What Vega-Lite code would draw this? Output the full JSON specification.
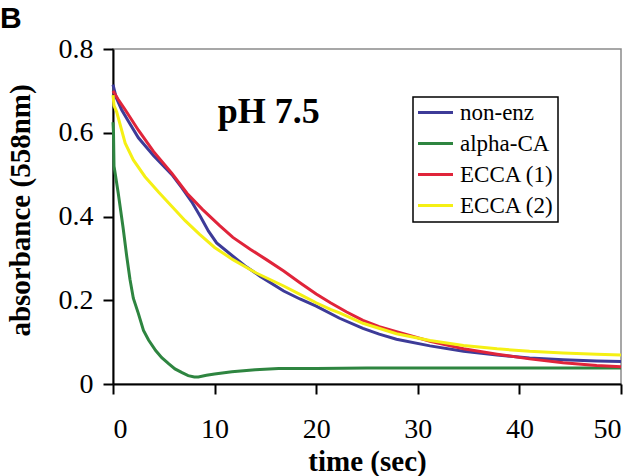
{
  "$schema": "https://vega.github.io/schema/vega-lite/v6.json",
  "width": 508,
  "height": 335,
  "autosize": {"type": "none"},
  "padding": {"left": 113, "top": 49, "right": 19, "bottom": 92},
  "background": "white",
  "config": {
    "view": {"stroke": "#8a8a8a", "strokeWidth": 1.5},
    "font": "Liberation Serif",
    "axis": {
      "domainColor": "black", "domainWidth": 2,
      "tickColor": "black", "tickWidth": 2, "tickSize": 10,
      "labelFont": "Liberation Serif", "labelFontSize": 28, "labelColor": "black",
      "titleFont": "Liberation Serif", "titleFontSize": 29, "titleFontWeight": "bold", "titleColor": "black",
      "grid": false
    },
    "legend": {
      "orient": "none", "legendX": 300, "legendY": 48,
      "strokeColor": "black", "strokeWidth": 1.5, "fillColor": "white",
      "padding": 4, "symbolType": "M-3,0H3", "symbolStrokeWidth": 3, "symbolSize": 136, "symbolOffset": 7,
      "labelFont": "Liberation Serif", "labelFontSize": 23, "labelColor": "black",
      "labelOffset": 13, "rowPadding": 7
    }
  },
  "title": {
    "text": "B", "anchor": "start", "frame": "group", "font": "Liberation Sans", "fontWeight": "bold",
    "fontSize": 30, "color": "black", "dx": -113, "offset": -23, "baseline": "alphabetic"
  },
  "layer": [
    {
      "data": {"values": [
        {"series": "non-enz", "t": 0, "v": 0.715}, {"series": "non-enz", "t": 0.3, "v": 0.685}, {"series": "non-enz", "t": 0.85, "v": 0.655},
        {"series": "non-enz", "t": 1.5, "v": 0.628}, {"series": "non-enz", "t": 2.5, "v": 0.588}, {"series": "non-enz", "t": 4, "v": 0.545},
        {"series": "non-enz", "t": 5.8, "v": 0.5}, {"series": "non-enz", "t": 6.8, "v": 0.468}, {"series": "non-enz", "t": 7.75, "v": 0.435},
        {"series": "non-enz", "t": 8.6, "v": 0.4}, {"series": "non-enz", "t": 9.4, "v": 0.365}, {"series": "non-enz", "t": 10.2, "v": 0.337},
        {"series": "non-enz", "t": 11.8, "v": 0.305}, {"series": "non-enz", "t": 13, "v": 0.282}, {"series": "non-enz", "t": 14.5, "v": 0.257},
        {"series": "non-enz", "t": 16.8, "v": 0.222}, {"series": "non-enz", "t": 18.4, "v": 0.203}, {"series": "non-enz", "t": 20, "v": 0.186},
        {"series": "non-enz", "t": 22.3, "v": 0.157}, {"series": "non-enz", "t": 24.6, "v": 0.133}, {"series": "non-enz", "t": 26.2, "v": 0.119},
        {"series": "non-enz", "t": 27.9, "v": 0.107}, {"series": "non-enz", "t": 31.2, "v": 0.091}, {"series": "non-enz", "t": 34.5, "v": 0.078},
        {"series": "non-enz", "t": 37.8, "v": 0.069}, {"series": "non-enz", "t": 41, "v": 0.062}, {"series": "non-enz", "t": 44.3, "v": 0.058},
        {"series": "non-enz", "t": 47.6, "v": 0.055}, {"series": "non-enz", "t": 50, "v": 0.054},

        {"series": "alpha-CA", "t": 0, "v": 0.625}, {"series": "alpha-CA", "t": 0.05, "v": 0.6}, {"series": "alpha-CA", "t": 0.1, "v": 0.52},
        {"series": "alpha-CA", "t": 0.2, "v": 0.505}, {"series": "alpha-CA", "t": 0.52, "v": 0.455}, {"series": "alpha-CA", "t": 0.7, "v": 0.424},
        {"series": "alpha-CA", "t": 1.0, "v": 0.372}, {"series": "alpha-CA", "t": 1.35, "v": 0.305}, {"series": "alpha-CA", "t": 1.67, "v": 0.25},
        {"series": "alpha-CA", "t": 2.0, "v": 0.205}, {"series": "alpha-CA", "t": 2.5, "v": 0.168}, {"series": "alpha-CA", "t": 3.0, "v": 0.128},
        {"series": "alpha-CA", "t": 3.5, "v": 0.105}, {"series": "alpha-CA", "t": 4.2, "v": 0.08}, {"series": "alpha-CA", "t": 4.8, "v": 0.063},
        {"series": "alpha-CA", "t": 5.5, "v": 0.048}, {"series": "alpha-CA", "t": 6.1, "v": 0.036}, {"series": "alpha-CA", "t": 6.8, "v": 0.027},
        {"series": "alpha-CA", "t": 7.4, "v": 0.02}, {"series": "alpha-CA", "t": 8.0, "v": 0.017}, {"series": "alpha-CA", "t": 8.4, "v": 0.017},
        {"series": "alpha-CA", "t": 9.2, "v": 0.021}, {"series": "alpha-CA", "t": 10, "v": 0.024}, {"series": "alpha-CA", "t": 11.7, "v": 0.029},
        {"series": "alpha-CA", "t": 14, "v": 0.034}, {"series": "alpha-CA", "t": 16.3, "v": 0.037}, {"series": "alpha-CA", "t": 20, "v": 0.037},
        {"series": "alpha-CA", "t": 25, "v": 0.038}, {"series": "alpha-CA", "t": 30, "v": 0.038}, {"series": "alpha-CA", "t": 35, "v": 0.038},
        {"series": "alpha-CA", "t": 40, "v": 0.038}, {"series": "alpha-CA", "t": 45, "v": 0.038}, {"series": "alpha-CA", "t": 50, "v": 0.038},

        {"series": "ECCA (1)", "t": 0, "v": 0.7}, {"series": "ECCA (1)", "t": 0.5, "v": 0.68}, {"series": "ECCA (1)", "t": 1.2, "v": 0.655},
        {"series": "ECCA (1)", "t": 2.5, "v": 0.606}, {"series": "ECCA (1)", "t": 4, "v": 0.555}, {"series": "ECCA (1)", "t": 5.8, "v": 0.503},
        {"series": "ECCA (1)", "t": 7.3, "v": 0.455}, {"series": "ECCA (1)", "t": 8.8, "v": 0.417}, {"series": "ECCA (1)", "t": 10.5, "v": 0.378},
        {"series": "ECCA (1)", "t": 11.8, "v": 0.35}, {"series": "ECCA (1)", "t": 13.5, "v": 0.322}, {"series": "ECCA (1)", "t": 15.1, "v": 0.297},
        {"series": "ECCA (1)", "t": 16.8, "v": 0.27}, {"series": "ECCA (1)", "t": 18.4, "v": 0.242}, {"series": "ECCA (1)", "t": 20, "v": 0.215},
        {"series": "ECCA (1)", "t": 21.4, "v": 0.194}, {"series": "ECCA (1)", "t": 23, "v": 0.172}, {"series": "ECCA (1)", "t": 24.6, "v": 0.152},
        {"series": "ECCA (1)", "t": 26.2, "v": 0.137}, {"series": "ECCA (1)", "t": 27.9, "v": 0.125}, {"series": "ECCA (1)", "t": 31.2, "v": 0.102},
        {"series": "ECCA (1)", "t": 34.5, "v": 0.084}, {"series": "ECCA (1)", "t": 37.8, "v": 0.071}, {"series": "ECCA (1)", "t": 41, "v": 0.06},
        {"series": "ECCA (1)", "t": 44.3, "v": 0.051}, {"series": "ECCA (1)", "t": 47.6, "v": 0.044}, {"series": "ECCA (1)", "t": 50, "v": 0.041},

        {"series": "ECCA (2)", "t": 0, "v": 0.69}, {"series": "ECCA (2)", "t": 0.1, "v": 0.665}, {"series": "ECCA (2)", "t": 0.36, "v": 0.65},
        {"series": "ECCA (2)", "t": 1.2, "v": 0.575}, {"series": "ECCA (2)", "t": 2, "v": 0.535}, {"series": "ECCA (2)", "t": 3.15, "v": 0.495},
        {"series": "ECCA (2)", "t": 4.5, "v": 0.458}, {"series": "ECCA (2)", "t": 5.8, "v": 0.424}, {"series": "ECCA (2)", "t": 7.1, "v": 0.39},
        {"series": "ECCA (2)", "t": 8.5, "v": 0.358}, {"series": "ECCA (2)", "t": 10, "v": 0.326}, {"series": "ECCA (2)", "t": 11.8, "v": 0.297},
        {"series": "ECCA (2)", "t": 14.1, "v": 0.265}, {"series": "ECCA (2)", "t": 16.8, "v": 0.234}, {"series": "ECCA (2)", "t": 18.4, "v": 0.214},
        {"series": "ECCA (2)", "t": 20, "v": 0.194}, {"series": "ECCA (2)", "t": 21.4, "v": 0.178}, {"series": "ECCA (2)", "t": 22.3, "v": 0.17},
        {"series": "ECCA (2)", "t": 24.6, "v": 0.145}, {"series": "ECCA (2)", "t": 27.9, "v": 0.12}, {"series": "ECCA (2)", "t": 31.2, "v": 0.104},
        {"series": "ECCA (2)", "t": 34.5, "v": 0.092}, {"series": "ECCA (2)", "t": 37.8, "v": 0.084}, {"series": "ECCA (2)", "t": 41, "v": 0.078},
        {"series": "ECCA (2)", "t": 44.3, "v": 0.074}, {"series": "ECCA (2)", "t": 47.6, "v": 0.071}, {"series": "ECCA (2)", "t": 50, "v": 0.069}
      ]},
      "mark": {"type": "line", "strokeWidth": 3},
      "encoding": {
        "x": {"field": "t", "type": "quantitative", "scale": {"domain": [0, 50], "nice": false},
              "axis": {"values": [0, 10, 20, 30, 40, 50], "title": "time (sec)", "labelPadding": 21, "titleY": 86, "titleBaseline": "alphabetic"}},
        "y": {"field": "v", "type": "quantitative", "scale": {"domain": [0, 0.8], "nice": false},
              "axis": {"values": [0, 0.2, 0.4, 0.6, 0.8], "labelExpr": "datum.value == 0 ? '0' : format(datum.value, '.1f')",
                       "title": "absorbance (558nm)", "labelPadding": 10, "titleX": -93, "titleY": 161, "titleBaseline": "middle"}},
        "color": {"field": "series", "type": "nominal",
                  "scale": {"domain": ["non-enz", "alpha-CA", "ECCA (1)", "ECCA (2)"], "range": ["#3d3b98", "#2e8540", "#e0243a", "#f5f014"]},
                  "legend": {"title": null}}
      }
    },
    {
      "data": {"values": [{"t": 10.3, "v": 0.623, "label": "pH 7.5"}]},
      "mark": {"type": "text", "align": "left", "baseline": "alphabetic", "font": "Liberation Serif", "fontWeight": "bold", "fontSize": 36, "color": "black"},
      "encoding": {
        "x": {"field": "t", "type": "quantitative"},
        "y": {"field": "v", "type": "quantitative"},
        "text": {"field": "label"}
      }
    }
  ]
}
